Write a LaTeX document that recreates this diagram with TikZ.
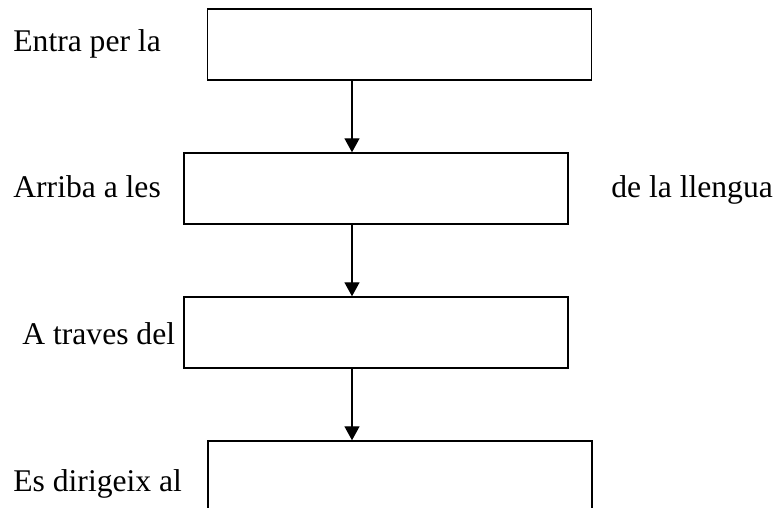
\documentclass[tikz,border=0pt]{standalone}
\usepackage{fontspec}
\setmainfont{Liberation Serif}
\usepackage{tikz}
\usetikzlibrary{arrows.meta}
\tikzset{>={Triangle[width=7.5pt,length=7pt]}}
\tikzset{blank/.style={draw, line width=0.7pt, minimum width=192pt, minimum height=35.5pt, inner sep=0pt}}
\tikzset{lbl/.style={anchor=base west, inner sep=0pt, font=\fontsize{15.8}{18}\selectfont}}

\begin{document}
\begin{tikzpicture}[x=0.5pt, y=-0.5pt]
    \clip (0,0) rectangle (778,508);
    \node[blank, line width=0.85pt] (caixa1) at (399.5,44.5) {};
    \node[blank] (caixa2) at (376,188.5) {};
    \node[blank] (caixa3) at (376,332.5) {};
%    last box runs off the page
    \node[blank, minimum height=70pt] (caixa4) at (400,511) {};
    \node[lbl] (t1) at (13,52) {Entra per la};
    \node[lbl] (t2) at (13,198) {Arriba a les};
    \node[lbl] (t2b) at (611,198) {de la llengua};
    \node[lbl] (t3) at (22,345) {A traves del};
    \node[lbl] (t4) at (13,492) {Es dirigeix al};
    \coordinate (eix) at (352,0);
    \draw[->, line width=0.7pt] (caixa1.south -| eix) -- (caixa2.north -| eix);
    \draw[->, line width=0.7pt] (caixa2.south -| eix) -- (caixa3.north -| eix);
    \draw[->, line width=0.7pt] (caixa3.south -| eix) -- (caixa4.north -| eix);
\end{tikzpicture}
\end{document}
